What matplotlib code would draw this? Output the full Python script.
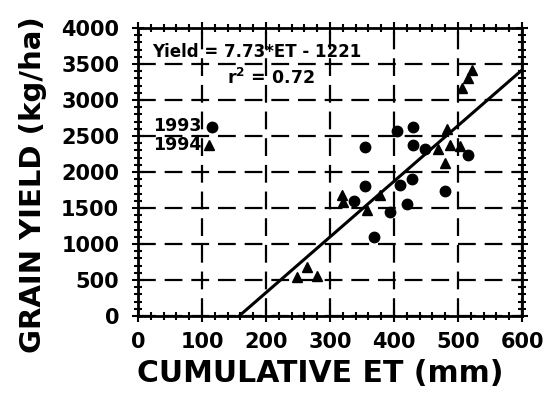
import matplotlib
matplotlib.use("Agg")
import matplotlib.pyplot as plt
import numpy as np
from matplotlib.ticker import MultipleLocator

plt.rcParams['font.family'] = ['DejaVu Sans']

# 1993 data (circles)
et_1993 = [355, 368, 355, 337, 405, 430, 430, 409, 428, 394, 420, 480, 516, 448]
yield_1993 = [2350, 1100, 1800, 1600, 2570, 2620, 2380, 1820, 1900, 1450, 1560, 1730, 2240, 2320]

# 1994 data (triangles)
et_1994 = [522, 516, 506, 482, 469, 487, 503, 480, 319, 320, 378, 358, 248, 264, 280]
yield_1994 = [3420, 3300, 3160, 2600, 2320, 2380, 2360, 2120, 1680, 1580, 1680, 1470, 540, 680, 560]

slope = 7.73
intercept = -1221

fig = plt.figure(figsize=(5.44, 3.93), dpi=100)
ax = fig.add_axes([0.2537, 0.1959, 0.9596 - 0.2537, 0.9288 - 0.1959])

ax.set_xlim(0, 600)
ax.set_ylim(0, 4000)

ax.grid(True, which='major', color='black', linestyle=(0, (8, 4)), linewidth=1.6)
ax.set_axisbelow(True)

xl = np.array([0, 600])
ax.plot(xl, slope * xl + intercept, color='black', linewidth=2.2, zorder=3)

ax.plot(et_1993, yield_1993, 'o', color='black', markersize=7.5, zorder=4)
ax.plot(et_1994, yield_1994, '^', color='black', markersize=7.5, zorder=4)

# legend
ax.plot([116], [2625], 'o', color='black', markersize=7.5, clip_on=False)
ax.plot([111], [2375], '^', color='black', markersize=7.5, clip_on=False)
ax.text(99, 2640, '1993', ha='right', va='center', fontsize=12.5, fontweight='bold')
ax.text(99, 2375, '1994', ha='right', va='center', fontsize=12.5, fontweight='bold')

ax.text(186, 3667, 'Yield = 7.73*ET - 1221', ha='center', va='center', fontsize=12, fontweight='bold')
ax.text(208, 3305, 'r$^\\mathbf{2}$ = 0.72', ha='center', va='center', fontsize=12.5, fontweight='bold')

ax.xaxis.set_major_locator(MultipleLocator(100))
ax.xaxis.set_minor_locator(MultipleLocator(20))
ax.yaxis.set_major_locator(MultipleLocator(500))
ax.yaxis.set_minor_locator(MultipleLocator(100))
ax.tick_params(which='both', direction='inout', top=True, right=True, width=1.5, colors='black')
ax.tick_params(which='major', length=9)
ax.tick_params(which='minor', length=5.5)
ax.tick_params(labelsize=15)
ax.tick_params(axis='y', pad=9)
ax.tick_params(axis='x', pad=7)
for lab in ax.get_xticklabels() + ax.get_yticklabels():
    lab.set_fontweight('bold')
for s in ax.spines.values():
    s.set_linewidth(2)

ax.set_xlabel('CUMULATIVE ET (mm)', fontsize=21.5, fontweight='bold')
ax.xaxis.set_label_coords(0.475, -0.15)
ax.xaxis.label.set_va('top')
ax.set_ylabel('GRAIN YIELD (kg/ha)', fontsize=21, fontweight='bold')
ax.yaxis.set_label_coords(-0.274, 0.455)
ax.yaxis.label.set_va('center')

fig.savefig('out.png', dpi=100)
